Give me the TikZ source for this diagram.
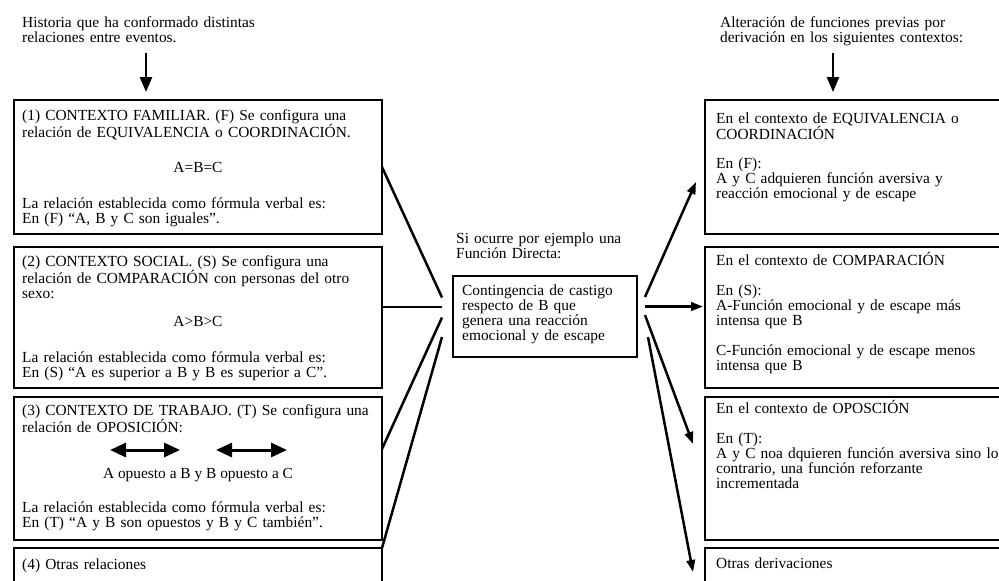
\documentclass[tikz,border=0pt]{standalone}
\usepackage{fontspec}
\setmainfont{Liberation Serif}
\usetikzlibrary{arrows.meta,calc}
\begin{document}
\begin{tikzpicture}[x=1pt,y=-1pt,
  box/.style={draw, line width=2.8pt, inner sep=0pt, outer sep=0pt, anchor=north west},
  txt/.style={anchor=base west, inner sep=0pt, align=left, font=\fontsize{15.4}{15}\selectfont},
  ctr/.style={anchor=base, inner sep=0pt, font=\fontsize{15.4}{15}\selectfont},
  conn/.style={line width=2.5pt},
  arr/.style={line width=2.5pt, -{Triangle[length=12pt,width=8.5pt]}},
  toparr/.style={line width=2.6pt, -{Triangle[length=15pt,width=12pt]}},
  dbl/.style={line width=3pt, {Triangle[length=16pt,width=14pt]}-{Triangle[length=16pt,width=14pt]}}]
\useasboundingbox (0,0) rectangle (999,581);
\fill[white] (0,0) rectangle (999,581);

% top texts and arrows
\node[txt, text width=300pt] (histo) at (22,27) {Historia que ha conformado distintas\\relaciones entre eventos.};
\node[txt, text width=300pt] (alter) at (720,27) {Alteración de funciones previas por\\derivación en los siguientes contextos:};

% left boxes
\node[box, minimum width=368pt, minimum height=134pt] (L1) at (14,100) {};
\node[box, minimum width=368pt, minimum height=141pt] (L2) at (14,247) {};
\node[box, minimum width=368pt, minimum height=143pt] (L3) at (14,397) {};
\node[box, minimum width=368pt, minimum height=60pt] (L4) at (14,548) {};

% right boxes
\node[box, minimum width=314pt, minimum height=134pt] (R1) at (705,100) {};
\node[box, minimum width=314pt, minimum height=141pt] (R2) at (705,247) {};
\node[box, minimum width=314pt, minimum height=143pt] (R3) at (705,397) {};
\node[box, minimum width=314pt, minimum height=60pt] (R4) at (705,548) {};

% centre box
\node[box, minimum width=184pt, minimum height=81pt] (C) at (453,276) {};

\coordinate (hs) at (146,53);
\coordinate (as) at (833,53);
\draw[toparr] (hs) -- ($(L1.north west)+(132,-8)$);
\draw[toparr] (as) -- ($(R1.north west)+(128,-8)$);

% left box texts
\node[txt, text width=360pt] (l1a) at (22,120) {(1) CONTEXTO FAMILIAR. (F) Se configura una\\relación de EQUIVALENCIA o COORDINACIÓN.};
\node[ctr] (l1b) at (198,172) {A=B=C};
\node[txt, text width=360pt] (l1c) at (22,208) {La relación establecida como fórmula verbal es:\\En (F) “A, B y C son iguales”.};

\node[txt, text width=360pt] (l2a) at (22,266) {(2) CONTEXTO SOCIAL. (S) Se configura una\\relación de COMPARACIÓN con personas del otro\\sexo:};
\node[ctr] (l2b) at (198,326) {A>B>C};
\node[txt, text width=360pt] (l2c) at (22,362) {La relación establecida como fórmula verbal es:\\En (S) “A es superior a B y B es superior a C”.};

\node[txt, text width=360pt] (l3a) at (22,415) {(3) CONTEXTO DE TRABAJO. (T) Se configura una\\relación de OPOSICIÓN:};
\coordinate (d1a) at (110,450);
\coordinate (d1b) at (180,450);
\coordinate (d2a) at (216,450);
\coordinate (d2b) at (287,450);
\draw[dbl] (d1a) -- (d1b);
\draw[dbl] (d2a) -- (d2b);
\node[ctr] (l3b) at (198,478) {A opuesto a B y B opuesto a C};
\node[txt, text width=360pt] (l3c) at (22,512) {La relación establecida como fórmula verbal es:\\En (T) “A y B son opuestos y B y C también”.};

\node[txt, text width=360pt] (l4a) at (22,569) {(4) Otras relaciones};

% right box texts
\node[txt, text width=290pt] (r1a) at (716,123) {En el contexto de EQUIVALENCIA o\\COORDINACIÓN};
\node[txt, text width=290pt] (r1b) at (716,168) {En (F):\\A y C adquieren función aversiva y\\reacción emocional y de escape};

\node[txt, text width=290pt] (r2a) at (716,265) {En el contexto de COMPARACIÓN};
\node[txt, text width=290pt] (r2b) at (716,295) {En (S):\\A-Función emocional y de escape más\\intensa que B};
\node[txt, text width=290pt] (r2c) at (716,355) {C-Función emocional y de escape menos\\intensa que B};

\node[txt, text width=290pt] (r3a) at (716,413) {En el contexto de OPOSCIÓN};
\node[txt, text width=290pt] (r3b) at (716,443) {En (T):\\A y C noa dquieren función aversiva sino lo\\contrario, una función reforzante\\incrementada};

\node[txt, text width=290pt] (r4a) at (716,568) {Otras derivaciones};

% centre texts
\node[txt, text width=200pt] (si) at (456,243) {Si ocurre por ejemplo una\\Función Directa:};
\node[txt, text width=180pt] (cont) at (462,295) {Contingencia de castigo\\respecto de B que\\genera una reacción\\emocional y de escape};

% left connectors
\draw[conn] (L1.east) -- ($(C.west)+(-11,-19)$);
\draw[conn] ($(L2.north east)+(0,60)$) -- ($(C.west)+(-11,-9.5)$);
\draw[conn] ($(L3.north east)+(0,52)$) -- ($(C.west)+(-11,1)$);
\draw[conn] (L4.north east) -- ($(C.west)+(-11,20.5)$);

% right arrows
\draw[arr] ($(C.east)+(8,-19.5)$) -- ($(R1.west)+(-9,15)$);
\draw[arr] ($(C.east)+(8,-10)$) -- ($(R2.north west)+(-2,59.5)$);
\draw[arr] ($(C.east)+(8,-1.5)$) -- ($(R3.north west)+(-12,47)$);
\draw[arr] ($(C.east)+(11,20.5)$) -- ($(R4.north west)+(-12,24)$);
\end{tikzpicture}
\end{document}
